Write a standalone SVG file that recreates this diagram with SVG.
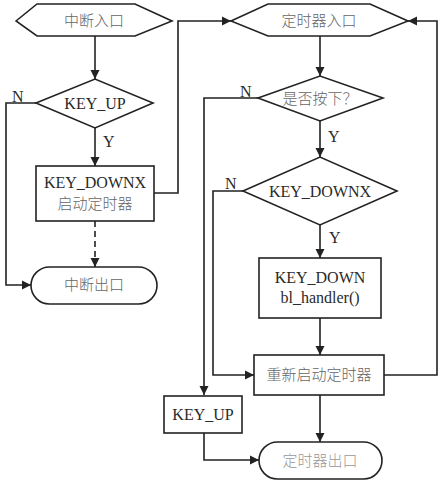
<svg xmlns="http://www.w3.org/2000/svg" width="446" height="484" viewBox="0 0 446 484">
<style>
.shape{fill:#fff;stroke:#222;stroke-width:1.6}
.line{fill:none;stroke:#222;stroke-width:1.6}
.dash{stroke-dasharray:6 4}
.lat{font-family:"Liberation Serif","Times New Roman",serif;font-size:16px;fill:#2a2a2a}
.cjk{font-family:"Noto Sans CJK SC","Noto Sans CJK JP",sans-serif;font-size:15px;font-weight:300;fill:#666}
.lbl{font-family:"Liberation Serif","Times New Roman",serif;font-size:16px;fill:#2a2a2a}
</style>
<defs>
<marker id="arr" viewBox="0 0 10 10" refX="10" refY="5" markerWidth="9" markerHeight="10" markerUnits="userSpaceOnUse" orient="auto">
<path d="M0,0 L10,5 L0,10 Z" fill="#222"/>
</marker>
</defs>
<rect width="446" height="484" fill="#fff"/>
<g id="connectors">
<path class="line" d="M95,36 V79" marker-end="url(#arr)"/>
<path class="line" d="M95,128 V166" marker-end="url(#arr)"/>
<path class="line" d="M36,103 H6 V285 H31" marker-end="url(#arr)"/>
<path class="line dash" d="M95,221 V267" marker-end="url(#arr)"/>
<path class="line" d="M154,193 H178 V21 H231" marker-end="url(#arr)"/>
<path class="line" d="M320,36 V76" marker-end="url(#arr)"/>
<path class="line" d="M320,121 V157" marker-end="url(#arr)"/>
<path class="line" d="M258,98 H204 V395" marker-end="url(#arr)"/>
<path class="line" d="M243,191 H213 V375 H254" marker-end="url(#arr)"/>
<path class="line" d="M320,225 V258" marker-end="url(#arr)"/>
<path class="line" d="M320,318 V355" marker-end="url(#arr)"/>
<path class="line" d="M320,395 V442" marker-end="url(#arr)"/>
<path class="line" d="M384,375 H437 V21 H408" marker-end="url(#arr)"/>
<path class="line" d="M204,433 V460 H259" marker-end="url(#arr)"/>
<text class="lbl" x="12" y="102">N</text>
<text class="lbl" x="103" y="147">Y</text>
<text class="lbl" x="240" y="97">N</text>
<text class="lbl" x="328" y="142">Y</text>
<text class="lbl" x="225" y="189">N</text>
<text class="lbl" x="329" y="243">Y</text>
</g>
<g id="int_entry">
<polygon class="shape" points="16,21 37,4 135,4 172,21 135,36 37,36"/>
<text class="cjk" x="94" y="26" text-anchor="middle">中断入口</text>
</g>
<g id="key_up_dec">
<polygon class="shape" points="36,103 95,79 153,103 95,128"/>
<text class="lat" x="95" y="109" text-anchor="middle">KEY_UP</text>
</g>
<g id="start_timer">
<rect class="shape" x="36" y="166" width="118" height="55"/>
<text class="lat" x="95" y="188" text-anchor="middle">KEY_DOWNX</text>
<text class="cjk" x="95" y="209" text-anchor="middle">启动定时器</text>
</g>
<g id="int_exit">
<rect class="shape" x="31" y="267" width="126" height="37" rx="18.5" ry="18.5"/>
<text class="cjk" x="94" y="290" text-anchor="middle">中断出口</text>
</g>
<g id="timer_entry">
<polygon class="shape" points="231,21 268,4 370,4 408,21 370,36 268,36"/>
<text class="cjk" x="319" y="26" text-anchor="middle">定时器入口</text>
</g>
<g id="pressed_dec">
<polygon class="shape" points="258,98 320,76 383,98 320,121"/>
<text class="cjk" x="320" y="104" text-anchor="middle">是否按下？</text>
</g>
<g id="keydownx_dec">
<polygon class="shape" points="243,191 320,157 397,191 320,225"/>
<text class="lat" x="320" y="197" text-anchor="middle">KEY_DOWNX</text>
</g>
<g id="handler">
<rect class="shape" x="259" y="258" width="122" height="60"/>
<text class="lat" x="320" y="283" text-anchor="middle">KEY_DOWN</text>
<text class="lat" x="320" y="303" text-anchor="middle">bl_handler()</text>
</g>
<g id="restart_timer">
<rect class="shape" x="254" y="355" width="130" height="40"/>
<text class="cjk" x="319" y="380" text-anchor="middle">重新启动定时器</text>
</g>
<g id="key_up_box">
<rect class="shape" x="164" y="396" width="78" height="37"/>
<text class="lat" x="203" y="420" text-anchor="middle">KEY_UP</text>
</g>
<g id="timer_exit">
<rect class="shape" x="259" y="442" width="123" height="37" rx="18.5" ry="18.5"/>
<text class="cjk" x="320" y="466" text-anchor="middle" style="fill:#999">定时器出口</text>
</g>
</svg>
